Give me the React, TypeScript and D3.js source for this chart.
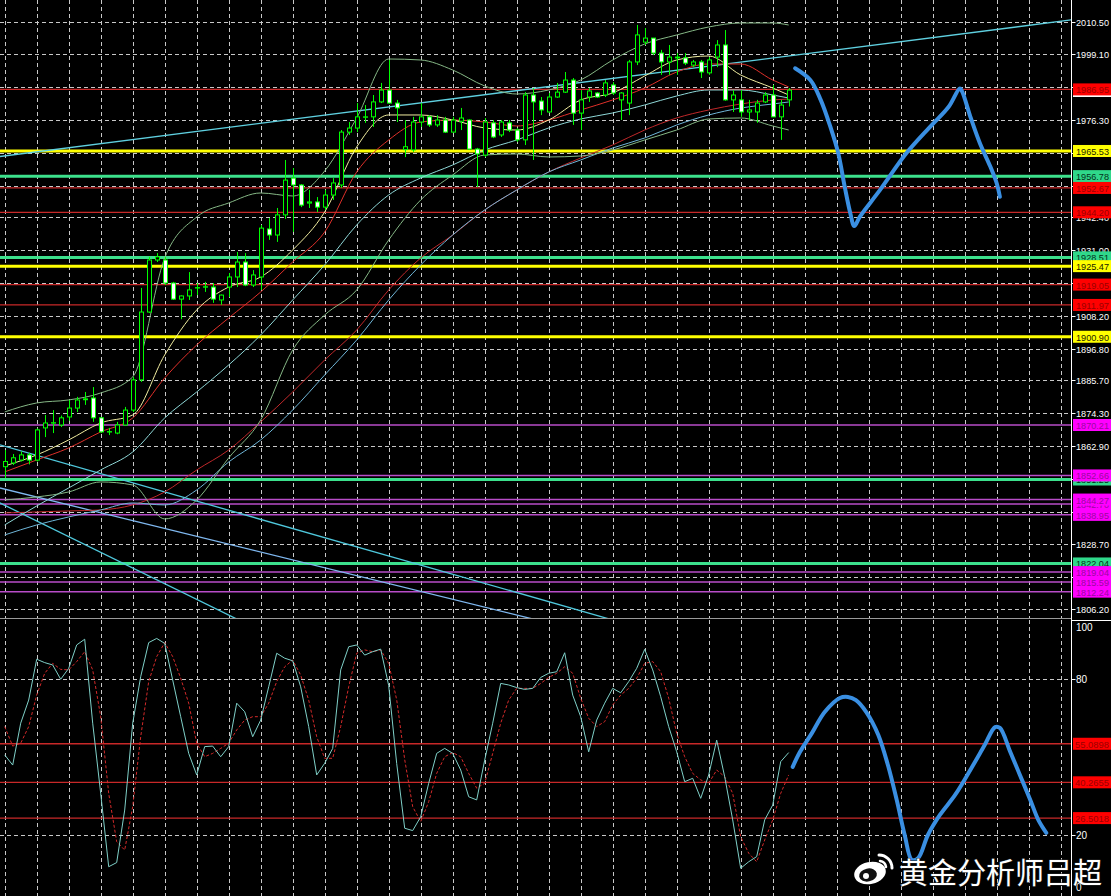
import React from "react"
import * as d3 from "d3"

const W = 1111
const H = 896
const AXIS_X = 1071.5

// 4H candles, left to right
const opens = [1855.7, 1857.0, 1858.0, 1859.8, 1858.0, 1869.2, 1870.9, 1870.2, 1873.0, 1876.1, 1879.0, 1879.6, 1872.7, 1867.8, 1867.4, 1870.2, 1875.4, 1885.9, 1909.5, 1927.6, 1927.6, 1919.6, 1914.0, 1915.1, 1917.9, 1918.2, 1918.2, 1913.7, 1918.2, 1921.7, 1926.9, 1918.9, 1921.7, 1938.4, 1936.3, 1943.3, 1956.1, 1953.7, 1947.4, 1947.8, 1946.0, 1950.2, 1953.7, 1972.1, 1973.5, 1977.3, 1977.4, 1982.6, 1986.7, 1982.2, 1966.0, 1965.9, 1975.6, 1977.4, 1974.6, 1976.3, 1972.1, 1975.9, 1976.3, 1966.2, 1964.1, 1975.3, 1971.1, 1975.3, 1972.8, 1969.4, 1985.0, 1982.9, 1979.1, 1984.3, 1986.0, 1990.2, 1978.7, 1984.3, 1985.7, 1985.0, 1988.5, 1983.3, 1982.2, 1996.5, 2003.4, 2004.8, 1999.6, 1996.5, 1998.2, 1997.9, 1995.4, 1996.5, 1992.7, 1998.2, 2002.4, 1983.3, 1983.3, 1979.1, 1979.1, 1982.6, 1985.0, 1977.4, 1983.3]
const highs = [1861.5, 1860.1, 1861.0, 1860.5, 1869.0, 1873.7, 1875.4, 1873.5, 1878.9, 1880.0, 1881.7, 1883.4, 1873.0, 1869.2, 1871.3, 1876.5, 1886.9, 1917.9, 1928.7, 1930.0, 1928.7, 1920.0, 1915.3, 1923.4, 1919.6, 1920.0, 1919.6, 1915.6, 1923.1, 1930.4, 1930.0, 1924.1, 1939.8, 1942.2, 1945.7, 1962.4, 1959.6, 1954.0, 1952.0, 1949.5, 1952.0, 1956.1, 1972.8, 1975.6, 1982.2, 1981.5, 1985.0, 1989.2, 1997.2, 1983.3, 1976.3, 1977.4, 1982.2, 1978.0, 1978.0, 1977.4, 1977.4, 1980.5, 1976.5, 1966.6, 1977.0, 1976.3, 1976.3, 1976.3, 1973.5, 1986.0, 1987.4, 1984.3, 1985.7, 1989.2, 1993.0, 1990.9, 1986.7, 1987.4, 1986.0, 1990.2, 1989.5, 1986.0, 1997.2, 2009.4, 2008.3, 2004.8, 2000.7, 2002.4, 1999.6, 1999.6, 1997.2, 1997.2, 1998.2, 2004.1, 2007.6, 1986.7, 1986.7, 1983.3, 1983.3, 1986.0, 1988.5, 1983.3, 1987.4]
const lows = [1851.8, 1856.3, 1857.5, 1856.5, 1857.5, 1866.0, 1867.4, 1869.5, 1871.7, 1874.7, 1877.2, 1871.3, 1867.4, 1866.7, 1867.0, 1870.0, 1874.7, 1885.2, 1909.2, 1926.9, 1918.9, 1913.7, 1907.0, 1913.7, 1915.4, 1916.5, 1912.7, 1912.0, 1914.7, 1918.2, 1918.5, 1918.2, 1917.2, 1934.6, 1933.9, 1941.9, 1937.4, 1946.0, 1945.7, 1944.3, 1945.0, 1948.5, 1952.7, 1971.1, 1972.1, 1975.3, 1973.9, 1982.2, 1982.0, 1975.6, 1963.4, 1965.2, 1973.9, 1973.9, 1973.9, 1971.8, 1971.8, 1972.8, 1965.9, 1953.0, 1963.4, 1970.0, 1970.4, 1972.1, 1968.7, 1967.6, 1962.4, 1978.0, 1978.8, 1984.0, 1985.7, 1974.6, 1972.8, 1982.6, 1984.0, 1984.3, 1985.0, 1976.3, 1978.0, 1995.4, 2002.4, 1998.9, 1992.0, 1992.0, 1992.0, 1995.4, 1994.7, 1990.9, 1992.0, 1994.7, 1983.0, 1979.1, 1977.4, 1976.3, 1975.3, 1982.2, 1977.4, 1969.4, 1981.0]
const closes = [1857.5, 1858.8, 1859.8, 1858.0, 1868.5, 1870.9, 1871.0, 1872.7, 1876.1, 1878.9, 1879.3, 1872.7, 1867.8, 1867.9, 1870.2, 1875.4, 1885.9, 1909.5, 1927.6, 1928.7, 1919.6, 1914.0, 1915.1, 1917.2, 1918.0, 1918.3, 1914.0, 1915.4, 1921.7, 1926.9, 1918.9, 1922.4, 1938.7, 1936.3, 1943.3, 1955.4, 1953.7, 1946.7, 1947.8, 1946.0, 1950.2, 1954.4, 1972.1, 1973.5, 1977.4, 1977.4, 1982.6, 1986.7, 1982.2, 1980.5, 1967.0, 1975.6, 1977.4, 1974.6, 1976.3, 1972.1, 1976.3, 1977.0, 1966.2, 1964.5, 1975.6, 1970.4, 1975.6, 1972.8, 1969.4, 1985.0, 1982.6, 1979.8, 1984.3, 1986.0, 1990.2, 1978.7, 1983.3, 1986.4, 1984.3, 1989.2, 1985.7, 1985.7, 1996.5, 2005.9, 2004.8, 1999.6, 1996.5, 1998.2, 1997.9, 1996.1, 1996.5, 1993.0, 1997.2, 2002.4, 1983.3, 1985.0, 1979.1, 1979.8, 1982.2, 1985.0, 1977.4, 1981.5, 1986.7]

// indicator lines read every 4 bars
const maBars = d3.range(0, 97, 4).concat([98])
const maFast = [1855.96, 1859.79, 1865.01, 1870.92, 1873.70, 1894.57, 1910.22, 1918.22, 1921.70, 1931.09, 1944.31, 1966.92, 1978.05, 1978.05, 1976.31, 1973.53, 1972.83, 1976.31, 1983.27, 1985.70, 1991.62, 1997.18, 1998.57, 1991.96, 1987.44, 1985.01]
const maMid = [1853.88, 1858.05, 1862.22, 1867.79, 1872.66, 1886.57, 1898.05, 1907.44, 1916.48, 1926.92, 1937.35, 1958.22, 1969.35, 1975.61, 1976.31, 1975.61, 1974.22, 1976.31, 1979.79, 1983.27, 1987.44, 1993.01, 1995.79, 1995.79, 1990.22, 1987.79]
const bandUpper = [1874.75, 1877.88, 1878.92, 1881.35, 1886.92, 1928.31, 1942.57, 1947.44, 1950.92, 1949.88, 1958.57, 1977.01, 1997.53, 1997.18, 1993.70, 1988.14, 1985.35, 1986.75, 1990.22, 1997.18, 2002.75, 2005.88, 2008.66, 2010.05, 2010.05, 2009.35]
const bandLower = [1844.14, 1845.18, 1846.92, 1850.40, 1849.35, 1837.53, 1844.14, 1858.75, 1871.96, 1896.31, 1908.48, 1917.18, 1934.57, 1948.48, 1957.18, 1964.14, 1964.49, 1963.44, 1963.79, 1965.88, 1969.35, 1972.83, 1976.66, 1977.01, 1974.22, 1972.83]
const maCyan = [1835.44, 1842.05, 1848.31, 1854.57, 1860.83, 1872.66, 1881.70, 1891.09, 1901.53, 1913.70, 1925.88, 1939.79, 1950.22, 1956.14, 1960.66, 1965.88, 1969.35, 1973.53, 1976.66, 1978.75, 1981.53, 1984.66, 1986.75, 1986.75, 1985.01, 1983.96]
const maBlue = [1831.96, 1835.44, 1838.22, 1840.66, 1843.09, 1842.40, 1847.61, 1857.35, 1865.01, 1875.44, 1887.61, 1899.79, 1913.70, 1925.88, 1936.31, 1945.01, 1951.96, 1958.22, 1962.40, 1966.57, 1970.05, 1974.57, 1978.05, 1980.48, 1981.88, 1982.57]
const maSlow = [1839.61, 1839.96, 1840.31, 1840.66, 1842.40, 1846.92, 1854.57, 1861.53, 1871.27, 1881.70, 1892.83, 1903.27, 1917.18, 1928.31, 1936.31, 1945.01, 1951.96, 1958.22, 1963.09, 1967.61, 1972.83, 1977.01, 1979.79, 1981.88, 1983.27, 1983.62]

// trend lines: [bar, price] pairs
const trendLines = [
  { from: [-0.6, 1963.6], to: [133.3, 2011.1], color: "#5fd0e0" },
  { from: [-0.6, 1863.3], to: [79.0, 1800.0], color: "#4fc8dc" },
  { from: [-0.6, 1848.3], to: [70.0, 1800.0], color: "#7fb8f0" },
  { from: [-0.6, 1843.1], to: [31.0, 1800.0], color: "#4fc8dc" },
]

// horizontal levels
const yellowLevels = [1965.53, 1925.47, 1900.9]
const greenLevels = [1956.78, 1928.51, 1851.25, 1822.04]
const redLevels = [1986.95, 1952.67, 1944.2, 1919.05, 1911.97]
const magentaLevels = [1812.24, 1815.59, 1819.04, 1838.95, 1842.7, 1844.27, 1852.66, 1870.21]
const currentPrice = 1986.4

const priceTicks = [2010.5, 1999.1, 1987.7, 1976.3, 1964.9, 1953.5, 1942.4, 1931.0, 1919.6, 1908.2, 1896.8, 1885.7, 1874.3, 1862.9, 1851.5, 1840.1, 1828.7, 1817.4, 1806.2]

// stochastic
const stochK = [50.8, 46.9, 63, 71.9, 87.6, 86.3, 85.4, 79.9, 84.1, 93.1, 95.3, 63, 36, 7.8, 9.4, 29.6, 63, 80.9, 94, 95.6, 93.7, 79.6, 65.5, 51.4, 43.1, 54, 54.2, 50.1, 54, 70.7, 67.4, 57.8, 64.2, 77, 89.9, 88, 87, 77, 61.7, 43.1, 47.6, 53.3, 83.5, 92.4, 93.1, 89.2, 90.5, 91.5, 77.5, 47.5, 22.6, 21.7, 27, 39.9, 51.4, 53.3, 51.4, 45, 34.7, 33.5, 48.8, 63, 78.3, 77.7, 76.7, 76, 76.4, 80.6, 82.2, 82.8, 90.1, 73.8, 65.5, 52, 64.2, 70.7, 76.4, 74.7, 79, 84.1, 91.4, 83.5, 73.2, 61.7, 52, 40.5, 41.8, 34.1, 43.1, 56.5, 42.4, 25.8, 7.2, 9.7, 11.7, 25.8, 31.5, 48.2, 51.7]
const stochD = [61.7, 54.2, 55.3, 61.7, 73.8, 82.2, 86, 83.7, 83.5, 86.7, 90.5, 83.5, 65.5, 36, 17.4, 14.2, 30.9, 57.8, 79, 88.6, 94, 88.6, 80.3, 70.7, 55.3, 50.1, 51.4, 53.3, 55.3, 60.4, 64.2, 65.5, 65.5, 70.7, 79, 84.7, 87.3, 81.5, 71.9, 57.8, 49.5, 49.5, 61.7, 77, 89.9, 91.2, 90.5, 91.2, 86, 72, 49, 30.9, 25.1, 32.8, 43.7, 50.1, 51.7, 50.1, 43.7, 38, 39.9, 51.4, 63, 71.9, 76.4, 76.4, 76.4, 78.3, 80.6, 82.2, 84.7, 82.2, 72.6, 64.9, 61.7, 63.6, 70, 73.8, 76.4, 80.3, 86, 86.7, 82.8, 72.6, 59.1, 50.1, 43.7, 41.2, 39.9, 45, 42.4, 36, 19.3, 13, 9.7, 18.1, 25.8, 36, 43.1]
const stochLevels = [55.0898, 40.2655, 26.5018]
const stochTicks = [100, 80, 20, 0]

// hand drawn forecast strokes: [bar, value]
const drawMain: [number, number][] = [[98.8, 1994.3], [100.7, 1990.2], [102.0, 1983.3], [103.2, 1974.0], [104.2, 1964.7], [105.0, 1953.1], [105.7, 1943.9], [106.2, 1939.4], [106.9, 1942.7], [109.4, 1951.9], [112.7, 1964.7], [115.7, 1974.0], [118.0, 1980.9], [119.4, 1987.3], [119.7, 1986.1], [120.7, 1977.5], [121.9, 1968.2], [123.2, 1960.1], [124.0, 1954.3], [124.4, 1949.6]]
const drawStoch: [number, number][] = [[98.5, 46.2], [99.4, 51.9], [100.9, 59.2], [102.5, 67.3], [104.4, 72.7], [105.4, 73.1], [106.4, 71.9], [107.7, 67.3], [109.2, 58.5], [110.4, 46.9], [111.5, 33.5], [112.5, 20], [113.4, 10.4], [114.2, 11.2], [115.4, 20], [116.9, 27.7], [118.8, 35.4], [120.7, 45], [122.5, 54.6], [123.8, 61.5], [124.4, 61.2], [125.7, 51.9], [126.9, 43.1], [128.2, 33.5], [129.2, 25.8], [130.2, 20.8]]

const x = d3.scaleLinear().domain([0, 1]).range([4.7, 12.7])
const y = d3.scaleLinear().domain([1806.2, 2010.5]).range([609, 21.7])
const ys = d3.scaleLinear().domain([0, 100]).range([887, 627])

const labelFont = "Liberation Sans, Arial, sans-serif"
const LABEL_SIZE = 9.5

const PriceLabel = ({ yy, text, bg, fg }: { yy: number; text: string; bg: string; fg: string }) => (
  <g>
    <rect x={1073} y={yy - 6} width={38} height={12} fill={bg} />
    <text x={1076} y={yy + 4} fill={fg} fontSize={LABEL_SIZE} fontFamily={labelFont} textLength={33} lengthAdjust="spacingAndGlyphs">
      {text}
    </text>
  </g>
)

export default function App() {
  const bars = d3.range(closes.length)
  const gridBars = d3.range(0, 134, 4)

  const maLine = d3
    .line<number>()
    .x((_, i) => x(maBars[i]))
    .y((d) => y(d))
    .curve(d3.curveMonotoneX)

  const stLine = d3
    .line<number>()
    .x((_, i) => x(i))
    .y((d) => ys(d))

  const drawLineMain = d3
    .line<[number, number]>()
    .x((d) => x(d[0]))
    .y((d) => y(d[1]))
    .curve(d3.curveCatmullRom)
  const drawLineSt = d3
    .line<[number, number]>()
    .x((d) => x(d[0]))
    .y((d) => ys(d[1]))
    .curve(d3.curveCatmullRom)

  const maSeries = [
    { d: maSlow, c: "#c0282a" },
    { d: maBlue, c: "#6fb6d8" },
    { d: maCyan, c: "#8fd8d8" },
    { d: bandLower, c: "#86b886" },
    { d: bandUpper, c: "#86b886" },
    { d: maMid, c: "#e0302a" },
    { d: maFast, c: "#f2eea0" },
  ]

  return (
    <svg width={W} height={H} style={{ position: "fixed", left: 0, top: 0, background: "#000" }}>
      <defs>
        <clipPath id="mainClip">
          <rect x={0} y={0} width={AXIS_X} height={618} />
        </clipPath>
        <clipPath id="subClip">
          <rect x={0} y={620} width={AXIS_X} height={276} />
        </clipPath>
      </defs>
      <rect width={W} height={H} fill="#000" />

      {/* main window */}
      <g clipPath="url(#mainClip)">
        {gridBars.map((b) => (
          <line key={b} x1={Math.round(x(b)) + 0.5} x2={Math.round(x(b)) + 0.5} y1={0} y2={618} stroke="#c8c8c8" strokeDasharray="4,3" />
        ))}
        {priceTicks.map((p) => (
          <line key={p} x1={0} x2={AXIS_X} y1={Math.round(y(p)) + 0.5} y2={Math.round(y(p)) + 0.5} stroke="#c8c8c8" strokeDasharray="4,3" />
        ))}

        {redLevels.map((p) => (
          <line key={p} x1={0} x2={AXIS_X} y1={y(p)} y2={y(p)} stroke="#c82828" strokeWidth={1.2} />
        ))}
        {magentaLevels.map((p) => (
          <line key={p} x1={0} x2={AXIS_X} y1={y(p)} y2={y(p)} stroke="#b84cc8" strokeWidth={1.5} />
        ))}
        {greenLevels.map((p) => (
          <line key={p} x1={0} x2={AXIS_X} y1={y(p)} y2={y(p)} stroke="#3ce08c" strokeWidth={3} />
        ))}
        {yellowLevels.map((p) => (
          <line key={p} x1={0} x2={AXIS_X} y1={y(p)} y2={y(p)} stroke="#ffff00" strokeWidth={3} />
        ))}

        {trendLines.map((t, i) => (
          <line key={i} x1={x(t.from[0])} y1={y(t.from[1])} x2={x(t.to[0])} y2={y(t.to[1])} stroke={t.color} strokeWidth={1.3} />
        ))}

        {maSeries.map((s, i) => (
          <path key={i} d={maLine(s.d) ?? ""} fill="none" stroke={s.c} strokeWidth={1} />
        ))}

        {bars.map((i) => {
          const cx = Math.round(x(i)) + 0.5
          const o = y(opens[i])
          const c = y(closes[i])
          const bull = closes[i] >= opens[i]
          const top = Math.min(o, c)
          const bot = Math.max(o, c)
          return (
            <g key={i}>
              <line x1={cx} x2={cx} y1={y(highs[i])} y2={y(lows[i])} stroke="#00ff00" />
              <rect x={cx - 2} y={top} width={4} height={Math.max(bot - top, 0.4)} fill={bull ? "#000" : "#ffffff"} stroke="#00ff00" />
            </g>
          )
        })}

        <path d={drawLineMain(drawMain) ?? ""} fill="none" stroke="#3a8fe2" strokeWidth={4} strokeLinecap="round" strokeLinejoin="round" />
      </g>

      {/* separator between windows */}
      <line x1={0} x2={AXIS_X} y1={618.5} y2={618.5} stroke="#9a9a9a" />

      {/* stochastic window */}
      <g clipPath="url(#subClip)">
        {gridBars.map((b) => (
          <line key={b} x1={Math.round(x(b)) + 0.5} x2={Math.round(x(b)) + 0.5} y1={620} y2={896} stroke="#c8c8c8" strokeDasharray="4,3" />
        ))}
        {[80, 20].map((v) => (
          <line key={v} x1={0} x2={AXIS_X} y1={Math.round(ys(v)) + 0.5} y2={Math.round(ys(v)) + 0.5} stroke="#c8c8c8" strokeDasharray="4,3" />
        ))}
        {stochLevels.map((v) => (
          <line key={v} x1={0} x2={AXIS_X} y1={ys(v)} y2={ys(v)} stroke="#c82828" strokeWidth={1.3} />
        ))}
        <path d={stLine(stochD) ?? ""} fill="none" stroke="#d42a2a" strokeWidth={1} strokeDasharray="3,2" />
        <path d={stLine(stochK) ?? ""} fill="none" stroke="#7fd0c8" strokeWidth={1} />
        <path d={drawLineSt(drawStoch) ?? ""} fill="none" stroke="#3a8fe2" strokeWidth={4} strokeLinecap="round" strokeLinejoin="round" />
      </g>

      {/* price axis */}
      <line x1={AXIS_X} x2={AXIS_X} y1={0} y2={H} stroke="#ffffff" />
      <line x1={AXIS_X} x2={W} y1={620.5} y2={620.5} stroke="#ffffff" />
      {priceTicks.map((p) => (
        <g key={p}>
          <line x1={AXIS_X} x2={AXIS_X + 4} y1={Math.round(y(p)) + 0.5} y2={Math.round(y(p)) + 0.5} stroke="#ffffff" />
          <text x={1076} y={y(p) + 4} fill="#ffffff" fontSize={LABEL_SIZE} fontFamily={labelFont} textLength={33} lengthAdjust="spacingAndGlyphs">
            {p.toFixed(2)}
          </text>
        </g>
      ))}
      <rect x={1073} y={y(currentPrice) - 6} width={38} height={12} fill="#ffffff" />
      {greenLevels.map((p) => (
        <PriceLabel key={p} yy={y(p)} text={p.toFixed(2)} bg="#2fd88a" fg="#05301a" />
      ))}
      {yellowLevels.map((p) => (
        <PriceLabel key={p} yy={y(p)} text={p.toFixed(2)} bg="#ffff00" fg="#202000" />
      ))}
      {redLevels.map((p) => (
        <PriceLabel key={p} yy={y(p)} text={p.toFixed(2)} bg="#ff0000" fg="#9a0000" />
      ))}
      {magentaLevels.map((p) => (
        <PriceLabel key={p} yy={y(p)} text={p.toFixed(2)} bg="#ff00ff" fg="#9a0aa0" />
      ))}

      {stochTicks.map((v) => (
        <g key={v}>
          {v !== 100 && v !== 0 && <line x1={AXIS_X} x2={AXIS_X + 4} y1={Math.round(ys(v)) + 0.5} y2={Math.round(ys(v)) + 0.5} stroke="#ffffff" />}
          <text x={1076} y={ys(v) + 4} fill="#ffffff" fontSize={LABEL_SIZE + 0.5} fontFamily={labelFont}>
            {v}
          </text>
        </g>
      ))}
      {stochLevels.map((v) => (
        <g key={v}>
          <rect x={1073} y={ys(v) - 6} width={38} height={12} fill="#ff0000" />
          <text x={1075} y={ys(v) + 4} fill="#9a0000" fontSize={LABEL_SIZE} fontFamily={labelFont} textLength={34} lengthAdjust="spacingAndGlyphs">
            {v.toFixed(4)}
          </text>
        </g>
      ))}

      {/* watermark */}
      <g>
        <ellipse cx={870} cy={873} rx={16} ry={11} fill="#ffffff" transform="rotate(-12 870 873)" />
        <ellipse cx={868} cy={875} rx={9} ry={6.5} fill="#111" transform="rotate(-12 868 875)" />
        <circle cx={866} cy={876} r={3} fill="#ffffff" />
        <path d="M 879 855 A 13 13 0 0 1 892 868" fill="none" stroke="#ffffff" strokeWidth={3} strokeLinecap="round" />
        <path d="M 880 861 A 7 7 0 0 1 886 867" fill="none" stroke="#ffffff" strokeWidth={2.5} strokeLinecap="round" />
        <text x={899} y={884} fill="#ffffff" fontSize={29} fontFamily="Noto Sans CJK SC, sans-serif" style={{ paintOrder: "stroke" }} stroke="#222" strokeWidth={1}>
          黄金分析师吕超
        </text>
      </g>
    </svg>
  )
}
